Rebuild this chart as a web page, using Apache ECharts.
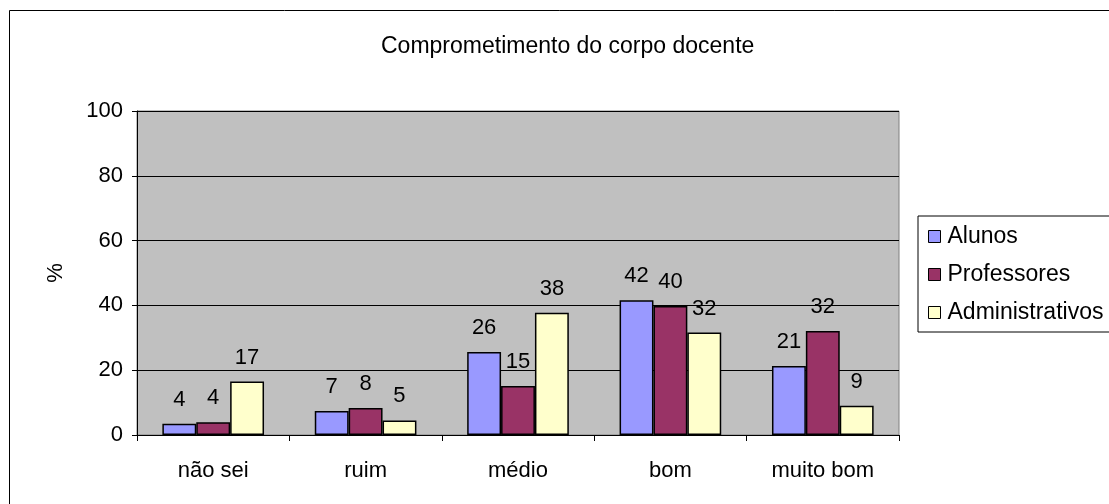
<!DOCTYPE html>
<html>
<head>
<meta charset="utf-8">
<script src="https://cdn.jsdelivr.net/npm/echarts@6/dist/echarts.min.js"></script>
<style>
html,body{margin:0;padding:0;background:#fff;}
#c{width:1109px;height:504px;}
</style>
</head>
<body>
<div id="c"></div>
<script>
const categories = ['não sei', 'ruim', 'médio', 'bom', 'muito bom'];
const seriesNames = ['Alunos', 'Professores', 'Administrativos'];
const alunos = [3.5, 7.4, 25.6, 41.6, 21.3];
const professores = [3.9, 8.3, 15.1, 39.8, 32.1];
const administrativos = [16.5, 4.5, 37.7, 31.6, 9.0];
const yTicks = [0, 20, 40, 60, 80, 100];
const titleText = 'Comprometimento do corpo docente';
const yName = '%';

const FONT = '"Liberation Sans", Arial, sans-serif';
const colors = ['#9999FF', '#993366', '#FFFFCC'];
const values = [alunos, professores, administrativos];

const chart = echarts.init(document.getElementById('c'), null, {renderer: 'canvas'});
chart.setOption({
  animation: false,
  textStyle: {fontFamily: FONT, color: '#000'},
  title: {
    text: titleText,
    left: 376, top: 30,
    textStyle: {fontFamily: FONT, fontSize: 23, fontWeight: 'normal', color: '#000'}
  },
  graphic: [{
    type: 'rect', z: -10, silent: true,
    shape: {x: 9.5, y: 10.5, width: 1300, height: 700},
    style: {fill: '#fff', stroke: '#000', lineWidth: 1}
  }],
  legend: {
    orient: 'vertical',
    left: 918, top: 216,
    padding: [9, 40, 8, 10],
    itemGap: 15,
    itemWidth: 12, itemHeight: 12,
    borderColor: '#000', borderWidth: 1,
    backgroundColor: '#fff',
    icon: 'rect',
    textStyle: {fontFamily: FONT, fontSize: 23, color: '#000', lineHeight: 22, padding: [0,0,0,2]},
    data: seriesNames.map((n, i) => ({name: n, itemStyle: {color: colors[i], borderColor: '#000', borderWidth: 1}}))
  },
  grid: {
    left: 137, right: 210, top: 111, bottom: 69,
    show: true, backgroundColor: '#C0C0C0', borderColor: '#808080', borderWidth: 1
  },
  xAxis: {
    type: 'category',
    data: categories,
    axisLine: {lineStyle: {color: '#000', width: 1}},
    axisTick: {show: true, length: 6, lineStyle: {color: '#000'}},
    axisLabel: {fontFamily: FONT, fontSize: 22, color: '#000', margin: 25},
    splitLine: {show: false}
  },
  yAxis: {
    type: 'value',
    min: yTicks[0], max: yTicks[yTicks.length - 1], interval: 20,
    name: yName,
    nameLocation: 'middle',
    nameRotate: 90,
    nameGap: 70,
    nameTextStyle: {fontFamily: FONT, fontSize: 22, color: '#000'},
    axisLine: {show: true, lineStyle: {color: '#000', width: 1}},
    axisTick: {show: true, length: 5, lineStyle: {color: '#000'}},
    axisLabel: {fontFamily: FONT, fontSize: 22, color: '#000', margin: 14},
    splitLine: {show: true, lineStyle: {color: '#000', width: 1}}
  },
  series: seriesNames.map((n, i) => ({
    name: n,
    type: 'bar',
    data: values[i],
    barGap: '0%',
    barCategoryGap: '33.3%',
    itemStyle: {color: colors[i], borderColor: '#000', borderWidth: 1.5},
    label: {
      show: true, position: 'top', distance: 13,
      fontFamily: FONT, fontSize: 22, color: '#000',
      formatter: p => String(Math.round(p.value))
    }
  }))
});
</script>
</body>
</html>
